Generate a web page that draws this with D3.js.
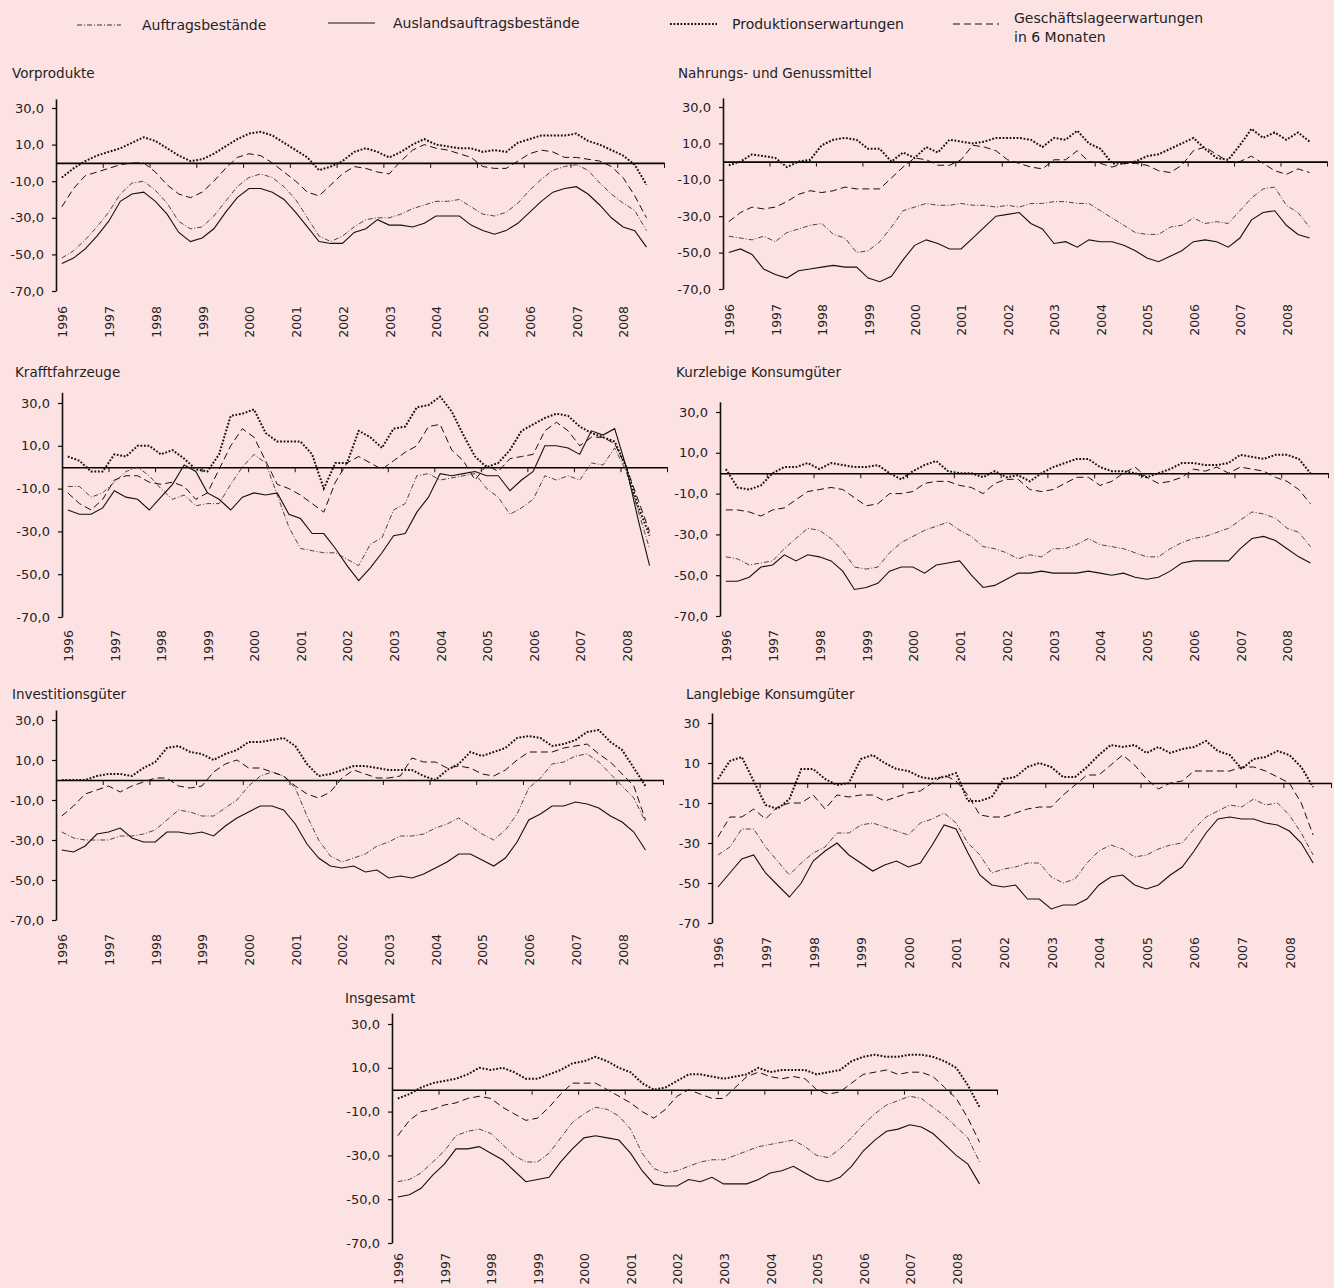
<!DOCTYPE html>
<html>
<head>
<meta charset="utf-8">
<script src="https://cdn.jsdelivr.net/npm/d3@7"></script>
<style>
  body { margin: 0; background: #fde2e4; }
  svg { display: block; font-family: "DejaVu Sans", sans-serif; }
</style>
</head>
<body>
<svg id="chart" width="1334" height="1288"></svg>
<script>
// Kategorien: Quartale 1996 I bis 2008 IV (Daten bis 2008 III)
const years = ['1996','1997','1998','1999','2000','2001','2002','2003','2004','2005','2006','2007','2008'];
const quarters = years.flatMap(y => ['I','II','III','IV'].map(q => y + ' ' + q));
const seriesNames = ['Auftragsbestände', 'Auslandsauftragsbestände', 'Produktionserwartungen', 'Geschäftslageerwartungen in 6 Monaten'];
const yTicks = [-70, -50, -30, -10, 10, 30];

// Vorprodukte
const vorAuftrag   = [-52,-48,-42,-35,-27,-17,-11,-10,-15,-22,-32,-36,-35,-29,-21,-13,-8,-6,-8,-13,-20,-30,-40,-43,-40,-35,-31,-30,-30,-28,-25,-23,-21,-21,-20,-24,-28,-29,-27,-22,-15,-9,-4,-2,-1,-4,-11,-17,-22,-26,-37];
const vorAusland   = [-55,-52,-47,-40,-32,-21,-17,-16,-21,-28,-38,-43,-41,-36,-27,-19,-14,-14,-16,-20,-27,-35,-43,-44,-44,-38,-36,-31,-34,-34,-35,-33,-29,-29,-29,-34,-37,-39,-37,-33,-27,-21,-16,-14,-13,-17,-23,-30,-35,-37,-46];
const vorProd      = [-8,-3,1,4,6,8,11,14,12,8,4,1,2,5,9,13,16,17,15,11,7,3,-4,-2,1,6,8,6,3,6,10,13,10,9,8,8,6,7,6,11,13,15,15,15,16,12,10,7,4,-1,-12];
const vorGeschaeft = [-24,-14,-7,-5,-3,-1,0,0,-5,-12,-17,-19,-16,-10,-3,3,5,4,0,-5,-10,-16,-18,-12,-6,-2,-3,-5,-6,1,7,10,8,7,5,3,-2,-3,-3,1,5,7,6,3,3,2,1,-2,-8,-18,-30];

// Nahrungs- und Genussmittel
const nahAuftrag   = [-41,-42,-43,-41,-44,-39,-37,-35,-34,-40,-42,-50,-49,-44,-36,-27,-25,-23,-24,-24,-23,-24,-24,-25,-24,-25,-23,-23,-22,-22,-23,-23,-27,-31,-35,-39,-40,-40,-36,-35,-31,-34,-33,-34,-27,-20,-15,-14,-24,-28,-36];
const nahAusland   = [-50,-48,-51,-59,-62,-64,-60,-59,-58,-57,-58,-58,-64,-66,-63,-54,-46,-43,-45,-48,-48,-42,-36,-30,-29,-28,-34,-37,-45,-44,-47,-43,-44,-44,-46,-49,-53,-55,-52,-49,-44,-43,-44,-47,-42,-32,-28,-27,-35,-40,-42];
const nahProd      = [-2,0,4,3,2,-3,0,1,9,12,13,12,7,7,0,5,2,8,5,12,11,10,11,13,13,13,12,8,13,12,17,10,7,-1,-1,0,3,4,7,10,13,7,2,1,9,18,13,16,12,16,11];
const nahGeschaeft = [-33,-28,-25,-26,-25,-22,-18,-16,-17,-16,-14,-15,-15,-15,-9,-3,2,1,-2,-2,1,9,8,6,1,-1,-3,-4,1,1,6,0,-1,-3,-1,-1,-2,-5,-6,-2,6,8,4,0,0,3,-1,-5,-7,-4,-6];

// Kraftfahrzeuge
const kfzAuftrag   = [-9,-9,-14,-12,-7,-2,0,-4,-10,-15,-13,-18,-17,-17,-8,0,6,2,-13,-28,-38,-39,-40,-40,-43,-46,-36,-33,-20,-17,-4,-3,-6,-5,-4,-3,-10,-14,-22,-19,-15,-4,-6,-4,-6,2,1,9,-2,-20,-38];
const kfzAusland   = [-20,-22,-22,-19,-11,-14,-15,-20,-14,-8,1,-2,-12,-15,-20,-14,-12,-13,-12,-22,-24,-31,-31,-38,-46,-53,-47,-40,-32,-31,-21,-14,-3,-4,-3,-2,-4,-4,-11,-6,-2,10,10,9,6,17,15,18,0,-24,-46];
const kfzProd      = [5,3,-2,-2,6,5,10,10,6,8,4,-1,-2,6,24,25,27,16,12,12,12,6,-10,2,2,17,14,9,18,19,28,29,33,26,15,5,0,2,8,17,20,23,25,24,19,16,14,12,0,-18,-32];
const kfzGeschaeft = [-12,-17,-20,-15,-6,-4,-4,-7,-8,-7,-9,-15,-12,-1,10,18,14,3,-8,-10,-13,-17,-21,-7,2,5,2,-1,3,7,10,19,20,8,3,-6,1,-2,4,5,6,17,21,17,10,14,14,11,0,-15,-30];

// Kurzlebige Konsumgüter
const kurzAuftrag   = [-41,-42,-45,-44,-43,-37,-32,-27,-28,-32,-38,-46,-47,-46,-39,-34,-31,-28,-26,-24,-28,-31,-36,-37,-39,-42,-40,-41,-37,-37,-35,-32,-35,-36,-37,-39,-41,-41,-37,-34,-32,-31,-29,-27,-23,-19,-20,-22,-27,-29,-36];
const kurzAusland   = [-53,-53,-51,-46,-45,-40,-43,-40,-41,-43,-48,-57,-56,-54,-48,-46,-46,-49,-45,-44,-43,-50,-56,-55,-52,-49,-49,-48,-49,-49,-49,-48,-49,-50,-49,-51,-52,-51,-48,-44,-43,-43,-43,-43,-37,-32,-31,-33,-37,-41,-44];
const kurzProd      = [2,-7,-8,-6,0,3,3,5,2,5,4,3,3,4,0,-3,1,4,6,1,0,0,-2,1,-2,-1,-4,0,3,5,7,7,3,1,1,0,-2,0,2,5,5,4,4,5,9,8,7,9,9,7,0];
const kurzGeschaeft = [-18,-18,-19,-21,-18,-17,-13,-9,-8,-7,-8,-12,-16,-15,-10,-10,-9,-5,-4,-4,-6,-7,-10,-5,-3,-3,-8,-9,-8,-5,-2,-2,-6,-4,0,3,-2,-5,-4,-2,2,1,3,0,3,2,1,-2,-4,-8,-15];

// Investitionsgüter
const invAuftrag   = [-26,-29,-30,-30,-30,-28,-28,-27,-25,-20,-15,-16,-18,-18,-14,-10,-3,2,4,2,-4,-18,-30,-38,-41,-39,-37,-33,-31,-28,-28,-27,-24,-22,-19,-23,-27,-30,-25,-17,-4,1,8,9,12,13,9,3,-3,-9,-21];
const invAusland   = [-35,-36,-33,-27,-26,-24,-29,-31,-31,-26,-26,-27,-26,-28,-23,-19,-16,-13,-13,-15,-22,-32,-39,-43,-44,-43,-46,-45,-49,-48,-49,-47,-44,-41,-37,-37,-40,-43,-39,-31,-20,-17,-13,-13,-11,-12,-14,-18,-21,-26,-35];
const invProd      = [0,0,0,2,3,3,2,6,9,16,17,14,13,10,13,15,19,19,20,21,17,8,2,3,5,7,7,6,5,5,5,2,0,5,8,14,12,14,16,21,22,21,17,18,20,24,25,19,15,6,-3];
const invGeschaeft = [-18,-13,-7,-5,-3,-6,-3,-1,1,1,-3,-4,-3,4,8,10,6,6,4,2,-3,-7,-9,-6,1,5,3,1,1,2,11,9,9,6,7,6,3,2,5,10,14,14,14,16,17,18,13,9,3,-3,-20];

// Langlebige Konsumgüter
const langAuftrag   = [-36,-32,-23,-23,-32,-39,-46,-40,-35,-32,-25,-25,-21,-20,-22,-24,-26,-20,-18,-15,-20,-30,-36,-45,-43,-42,-40,-40,-47,-50,-48,-40,-34,-31,-33,-37,-36,-33,-31,-30,-23,-17,-14,-11,-12,-8,-11,-10,-16,-25,-36];
const langAusland   = [-52,-45,-38,-36,-45,-51,-57,-50,-39,-34,-30,-36,-40,-44,-41,-39,-42,-40,-31,-21,-23,-35,-46,-51,-52,-51,-58,-58,-63,-61,-61,-58,-51,-47,-46,-51,-53,-51,-46,-42,-34,-25,-18,-17,-18,-18,-20,-21,-24,-30,-40];
const langProd      = [2,11,13,1,-11,-13,-8,7,7,2,-1,0,12,14,10,7,6,3,2,3,5,-9,-9,-7,2,3,8,10,8,3,3,8,14,19,18,19,15,18,15,17,18,21,16,14,7,12,13,16,14,8,-2];
const langGeschaeft = [-27,-17,-17,-13,-18,-12,-10,-10,-6,-13,-6,-7,-6,-6,-9,-7,-5,-4,0,4,1,-6,-16,-17,-17,-15,-13,-12,-12,-6,-1,4,4,9,14,9,2,-3,0,1,6,6,6,6,8,8,6,3,0,-10,-26];

// Insgesamt
const gesAuftrag   = [-42,-41,-38,-33,-28,-21,-19,-18,-20,-25,-30,-33,-33,-29,-22,-15,-11,-8,-9,-12,-18,-29,-36,-38,-37,-35,-33,-32,-32,-30,-28,-26,-25,-24,-23,-26,-30,-31,-27,-22,-16,-11,-7,-5,-3,-4,-8,-12,-17,-22,-33];
const gesAusland   = [-49,-48,-45,-39,-34,-27,-27,-26,-29,-32,-37,-42,-41,-40,-33,-27,-22,-21,-22,-23,-29,-37,-43,-44,-44,-41,-42,-40,-43,-43,-43,-41,-38,-37,-35,-38,-41,-42,-40,-35,-28,-23,-19,-18,-16,-17,-20,-25,-30,-34,-43];
const gesProd      = [-4,-2,1,3,4,5,7,10,9,10,8,5,5,7,9,12,13,15,13,10,8,3,0,1,4,7,7,6,5,6,7,10,8,9,9,9,7,8,9,13,15,16,15,15,16,16,15,13,10,2,-8];
const gesGeschaeft = [-21,-14,-10,-9,-7,-6,-4,-3,-4,-8,-11,-14,-13,-8,-2,3,3,3,0,-3,-6,-10,-13,-9,-3,0,-2,-4,-4,1,6,8,6,5,6,5,0,-2,-1,3,7,8,9,7,8,8,6,1,-4,-13,-24];

// Linienstile je Reihe
const styles = [
  { stroke: '#333', width: 0.9, dash: '5,2,1,2' },
  { stroke: '#111', width: 1.1, dash: null },
  { stroke: '#111', width: 2,   dash: '1.8,1.7' },
  { stroke: '#111', width: 1,   dash: '7,4' }
];

const panels = [
  { title: 'Vorprodukte', series: [vorAuftrag, vorAusland, vorProd, vorGeschaeft], left: 56, right: 664, top: 108, bottom: 291, tx: 12, ty: 73, dec: 1, gap: 15 },
  { title: 'Nahrungs- und Genussmittel', series: [nahAuftrag, nahAusland, nahProd, nahGeschaeft], left: 723, right: 1327, top: 107, bottom: 289, tx: 678, ty: 73, dec: 1, gap: 15 },
  { title: 'Krafftfahrzeuge', series: [kfzAuftrag, kfzAusland, kfzProd, kfzGeschaeft], left: 62, right: 667, top: 403, bottom: 617, tx: 15, ty: 372, dec: 1, gap: 13 },
  { title: 'Kurzlebige Konsumgüter', series: [kurzAuftrag, kurzAusland, kurzProd, kurzGeschaeft], left: 720, right: 1328, top: 412, bottom: 616, tx: 676, ty: 372, dec: 1, gap: 14 },
  { title: 'Investitionsgüter', series: [invAuftrag, invAusland, invProd, invGeschaeft], left: 56, right: 663, top: 720, bottom: 920, tx: 12, ty: 694, dec: 1, gap: 14 },
  { title: 'Langlebige Konsumgüter', series: [langAuftrag, langAusland, langProd, langGeschaeft], left: 712, right: 1331, top: 723, bottom: 923, tx: 686, ty: 694, dec: 0, gap: 14 },
  { title: 'Insgesamt', series: [gesAuftrag, gesAusland, gesProd, gesGeschaeft], left: 392, right: 997, top: 1024, bottom: 1243, tx: 345, ty: 998, dec: 1, gap: 10 }
];

const svg = d3.select('#chart');

function drawPanel(p) {
  const g = svg.append('g');
  const x = d3.scaleLinear().domain([0, quarters.length]).range([p.left, p.right]);
  const y = d3.scaleLinear().domain([-70, 30]).range([p.bottom, p.top]);
  const fmt = d => d.toFixed(p.dec).replace('.', ',');

  g.append('text')
    .attr('x', p.tx).attr('y', p.ty).attr('dy', '0.35em')
    .attr('font-size', 13.5).attr('fill', '#222')
    .text(p.title);

  // y-Achse, oben etwas über 30 hinaus
  const yAxisScale = y.copy().domain([-70, 35]).range([p.bottom, y(35)]);
  const ya = g.append('g')
    .attr('transform', `translate(${p.left},0)`)
    .call(d3.axisLeft(yAxisScale).tickValues(yTicks).tickSize(4).tickSizeOuter(0).tickPadding(8).tickFormat(fmt));
  ya.select('.domain').attr('stroke', '#111').attr('stroke-width', 1.6);
  ya.selectAll('.tick line').attr('stroke', '#111').attr('stroke-width', 1.2);
  ya.selectAll('.tick text').attr('font-size', 13).attr('fill', '#222').attr('font-family', '"DejaVu Sans", sans-serif');

  // Nulllinie mit Jahresstrichen
  const xa = g.append('g')
    .attr('transform', `translate(0,${y(0)})`)
    .call(d3.axisBottom(x).tickValues(d3.range(0, quarters.length + 1, 4)).tickSize(5).tickSizeOuter(0).tickFormat(''));
  xa.select('.domain').attr('stroke', '#000').attr('stroke-width', 1.6);
  xa.selectAll('.tick line').attr('stroke', '#111').attr('stroke-width', 1);

  // Jahreszahlen senkrecht
  g.selectAll('.yr').data(years).join('text')
    .attr('class', 'yr')
    .attr('transform', (d, i) => `translate(${x(i * 4 + 0.5) + 1},${p.bottom + p.gap}) rotate(-90)`)
    .attr('text-anchor', 'end').attr('dy', '0.35em')
    .attr('font-size', 12.5).attr('fill', '#222')
    .text(d => d);

  const line = d3.line().x((d, i) => x(i + 0.5)).y(d => y(d));
  p.series.forEach((s, k) => {
    g.append('path').datum(s)
      .attr('d', line)
      .attr('fill', 'none')
      .attr('stroke', styles[k].stroke)
      .attr('stroke-width', styles[k].width)
      .attr('stroke-dasharray', styles[k].dash);
  });
}

panels.forEach(drawPanel);

// Legende
const legendPos = [
  { x1: 77, x2: 121, y: 25, tx: 142 },
  { x1: 328, x2: 375, y: 23, tx: 393 },
  { x1: 670, x2: 717, y: 24, tx: 732 },
  { x1: 953, x2: 999, y: 24, tx: 1014 }
];
const lg = svg.append('g');
seriesNames.forEach((name, k) => {
  const lp = legendPos[k];
  lg.append('line')
    .attr('x1', lp.x1).attr('x2', lp.x2).attr('y1', lp.y).attr('y2', lp.y)
    .attr('stroke', styles[k].stroke).attr('stroke-width', k === 0 ? 1.2 : styles[k].width)
    .attr('stroke-dasharray', styles[k].dash);
  const t = lg.append('text').attr('x', lp.tx).attr('font-size', 14).attr('fill', '#222');
  if (k === 3) {
    t.append('tspan').attr('x', lp.tx).attr('y', 18).attr('dy', '0.35em').text('Geschäftslageerwartungen');
    t.append('tspan').attr('x', lp.tx).attr('y', 37).attr('dy', '0.35em').text('in 6 Monaten');
  } else {
    t.attr('y', lp.y).attr('dy', '0.35em').text(name);
  }
});
</script>
</body>
</html>
